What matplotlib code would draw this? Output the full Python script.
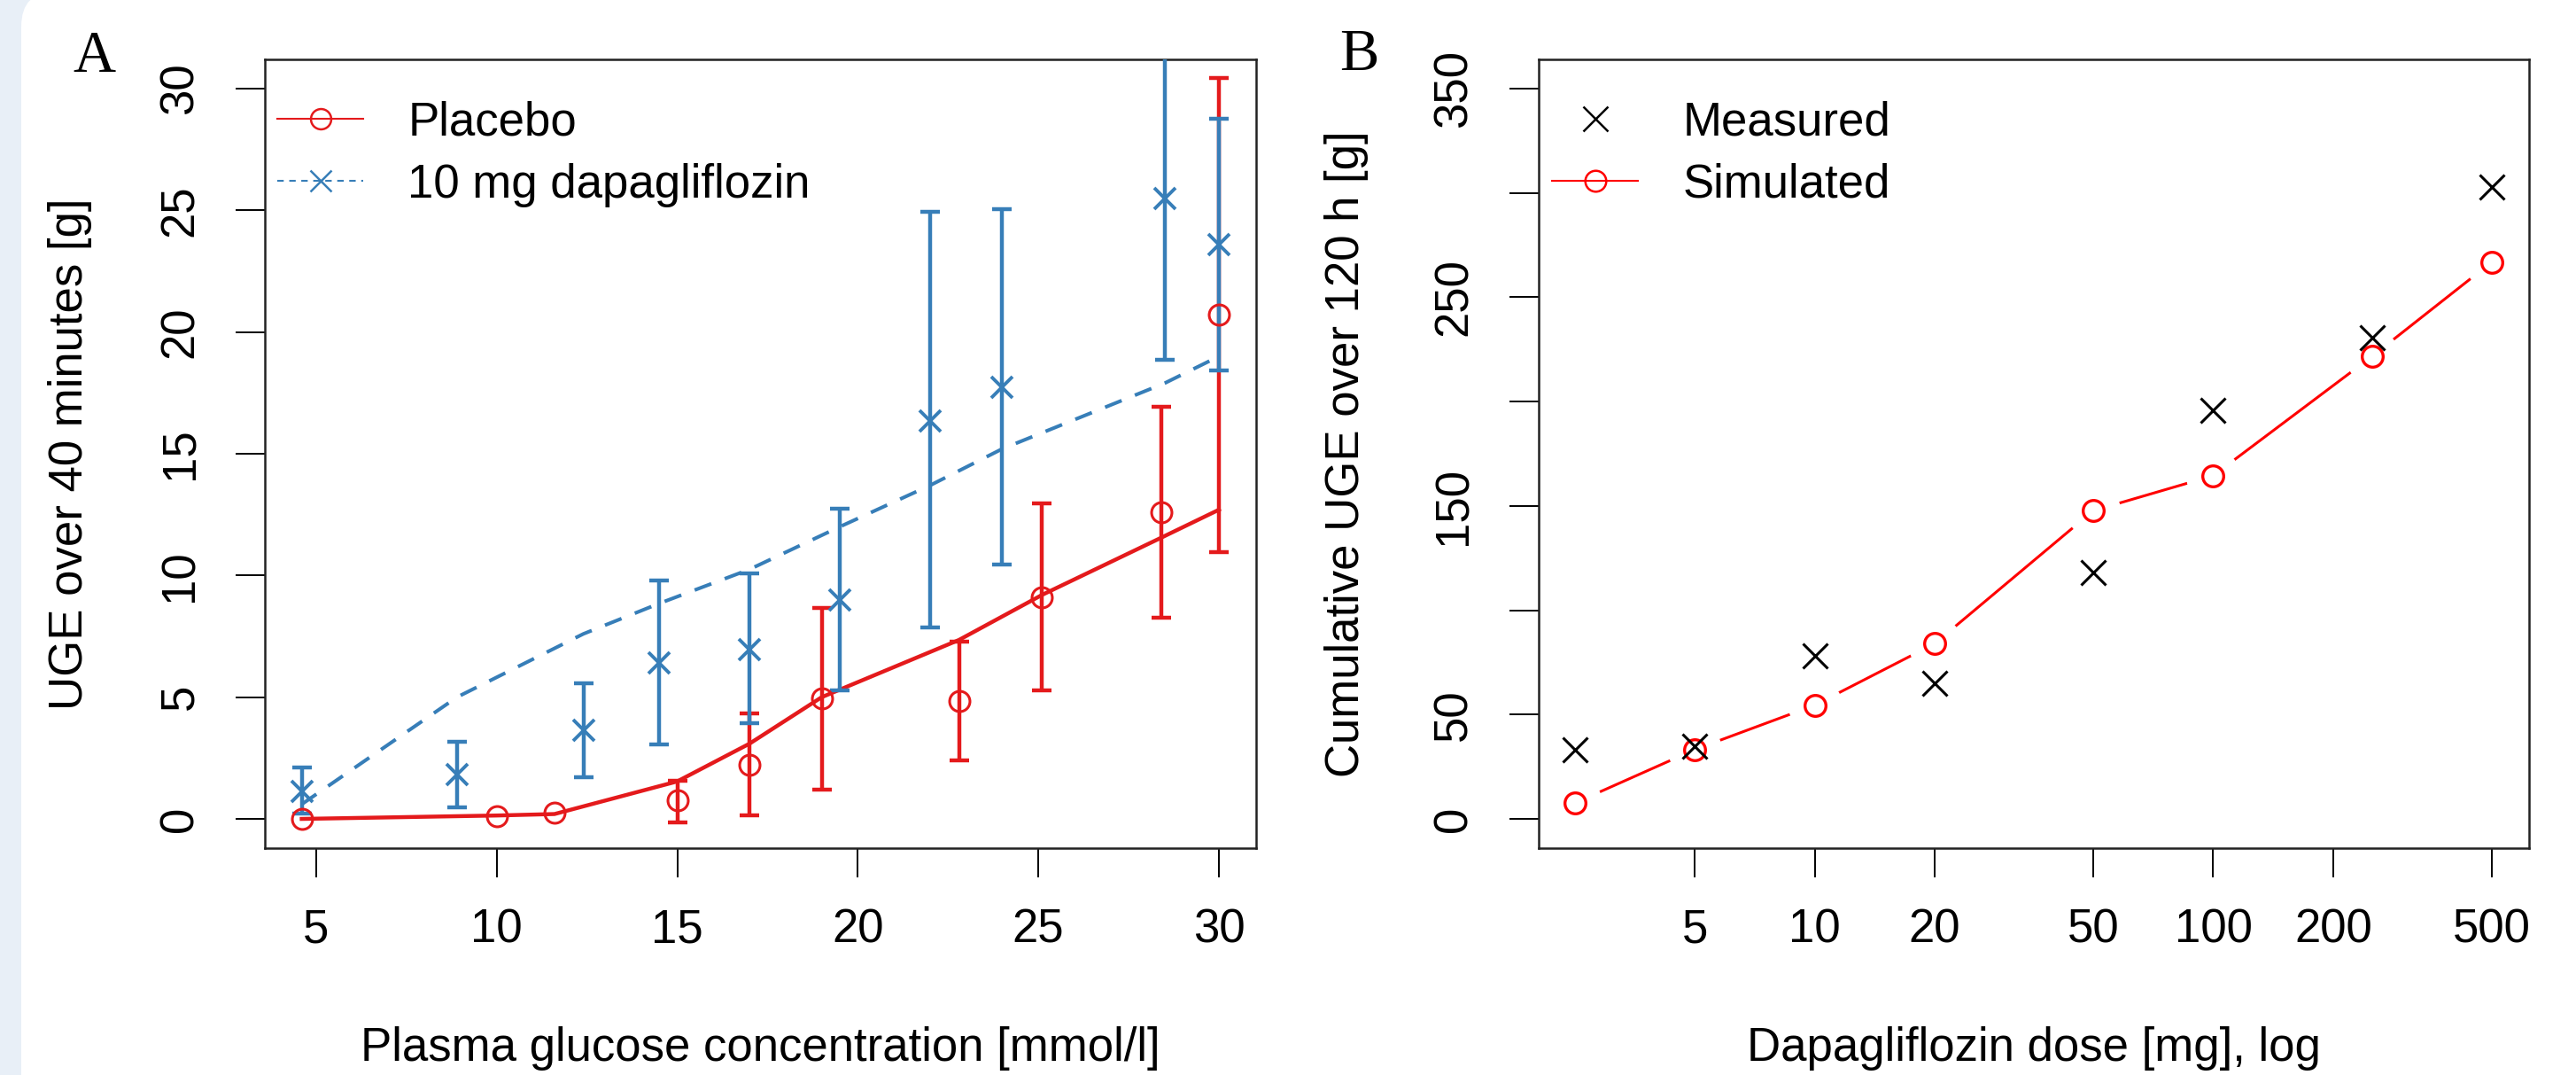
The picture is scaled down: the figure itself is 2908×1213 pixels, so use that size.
import numpy as np
import matplotlib.pyplot as plt
from matplotlib.lines import Line2D
from matplotlib.patches import FancyBboxPatch
from matplotlib.transforms import IdentityTransform
from matplotlib.ticker import NullLocator

plt.rcParams['font.family'] = ['Liberation Sans', 'DejaVu Sans']

# Panel A: UGE over 40 minutes vs plasma glucose
glucose_placebo = np.array([4.6, 10.0, 11.6, 15.0, 17.0, 19.0, 22.8, 25.1, 28.4, 30.0])
uge_placebo = np.array([0.0, 0.12, 0.24, 0.76, 2.24, 4.94, 4.84, 9.12, 12.6, 20.7])
placebo_hi = np.array([np.nan, np.nan, np.nan, 1.57, 4.33, 8.67, 7.29, 12.95, 16.94, 30.45])
placebo_lo = np.array([np.nan, np.nan, np.nan, -0.13, 0.16, 1.21, 2.42, 5.29, 8.25, 10.95])
model_placebo = np.array([0.0, 0.14, 0.2, 1.54, 3.09, 5.0, 7.35, 9.2, 11.55, 12.7])

glucose_dapa = np.array([4.6, 8.9, 12.4, 14.5, 17.0, 19.5, 22.0, 24.0, 28.5, 30.0])
uge_dapa = np.array([1.12, 1.82, 3.64, 6.42, 6.97, 9.0, 16.35, 17.73, 25.5, 23.59])
dapa_hi = np.array([2.12, 3.18, 5.56, 9.79, 10.08, 12.75, 24.94, 25.05, 33.0, 28.76])
dapa_lo = np.array([0.21, 0.48, 1.72, 3.07, 3.94, 5.27, 7.88, 10.44, 18.87, 18.41])
model_dapa = np.array([0.6, 5.0, 7.6, 8.85, 10.25, 12.0, 13.7, 15.2, 17.9, 19.0])

a_xticks = [5, 10, 15, 20, 25, 30]
a_yticks = [0, 5, 10, 15, 20, 25, 30]

# Panel B: cumulative UGE over 120 h vs dose
dose = np.array([2.5, 5, 10, 20, 50, 100, 250, 500])
uge_measured = np.array([33.2, 34.8, 78.1, 65.0, 118.2, 196.0, 230.5, 303.0])
uge_simulated = np.array([7.6, 33.2, 54.5, 84.0, 147.7, 164.5, 221.6, 266.9])

b_xticks = [5, 10, 20, 50, 100, 200, 500]
b_yticks = [0, 50, 100, 150, 200, 250, 300, 350]
b_ylabels = ['0', '50', '', '150', '', '250', '', '350']

RED = '#e41a1c'
BLUE = '#377eb8'
FS = 38

fig = plt.figure(figsize=(29.08, 12.13), dpi=100)
fig.patch.set_facecolor('#e8eff7')
card = FancyBboxPatch((24, -100), 3000, 1323, boxstyle='round,pad=0,rounding_size=40',
                      transform=IdentityTransform(), fc='white', ec='none', zorder=0)
fig.add_artist(card)

ax1 = fig.add_axes([0.10282, 0.21105, 0.38480, 0.73372])
ax2 = fig.add_axes([0.59732, 0.21105, 0.38445, 0.73372])


def style_axes(ax):
    for s in ax.spines.values():
        s.set_linewidth(1.8)
        s.set_color('#222222')
    ax.tick_params(direction='out', length=23.5, width=1.4, labelsize=FS,
                   top=False, right=False, colors='black')
    ax.tick_params(axis='x', pad=25)
    ax.tick_params(axis='y', pad=45)


# ---- panel A
ax1.plot(glucose_placebo, model_placebo, color=RED, lw=3.2, zorder=2)
ax1.plot(glucose_dapa, model_dapa, color=BLUE, lw=2.9, ls=(0, (5, 4)), zorder=2)

m = ~np.isnan(placebo_hi)
ax1.errorbar(glucose_placebo[m], uge_placebo[m],
             yerr=[uge_placebo[m] - placebo_lo[m], placebo_hi[m] - uge_placebo[m]],
             fmt='none', ecolor=RED, elinewidth=3.2, capsize=8, capthick=3.2, zorder=3)
ax1.errorbar(glucose_dapa, uge_dapa, yerr=[uge_dapa - dapa_lo, dapa_hi - uge_dapa],
             fmt='none', ecolor=BLUE, elinewidth=3.2, capsize=8, capthick=3.2, zorder=3)
ax1.plot(glucose_placebo, uge_placebo, 'o', mfc='none', mec=RED, ms=16.5, mew=2.2, zorder=4)
ax1.plot(glucose_dapa, uge_dapa, 'x', color=BLUE, ms=17.5, mew=2.8, zorder=4)

ax1.set_xlim(3.58, 31.03)
ax1.set_ylim(-1.2, 31.2)
ax1.set_xticks(a_xticks, [str(t) for t in a_xticks])
ax1.set_yticks(a_yticks, [str(t) for t in a_yticks], rotation=90, ha='center', va='center')
style_axes(ax1)

ax1.set_xlabel('Plasma glucose concentration [mmol/l]', fontsize=FS)
ax1.xaxis.set_label_coords(0.5, -0.2258)
ax1.set_ylabel('UGE over 40 minutes [g]', fontsize=FS, va='center')
ax1.yaxis.set_label_coords(-0.1966, 0.5)

h1 = [Line2D([], [], color=RED, lw=1.5, marker='o', mfc='none', ms=16.5, mew=1.8),
      Line2D([], [], color=BLUE, lw=1.5, ls=(0, (3.5, 3)), marker='x', ms=17, mew=1.8)]
ax1.legend(h1, ['Placebo', '10 mg dapagliflozin'], loc='upper left',
           bbox_to_anchor=(0.0125, 0.948), frameon=False, fontsize=FS,
           handlelength=1.84, handletextpad=0.95, labelspacing=0.39,
           borderpad=0, borderaxespad=0)

# ---- panel B
ax2.set_xscale('log')
ax2.plot(dose, uge_simulated, color='red', lw=2.2, zorder=2)
ax2.plot(dose, uge_simulated, 'o', mfc='white', mec='none', ms=44, zorder=3)
ax2.plot(dose, uge_simulated, 'o', mfc='none', mec='red', ms=17, mew=2.4, zorder=4)
ax2.plot(dose, uge_measured, 'x', color='black', ms=19.5, mew=2.2, zorder=5)

ax2.set_xlim(2.03, 620)
ax2.set_ylim(-14, 364)
ax2.set_xticks(b_xticks, [str(t) for t in b_xticks])
ax2.xaxis.set_minor_locator(NullLocator())
ax2.set_yticks(b_yticks, b_ylabels, rotation=90, ha='center', va='center')
style_axes(ax2)

ax2.set_xlabel('Dapagliflozin dose [mg], log', fontsize=FS)
ax2.xaxis.set_label_coords(0.5, -0.2258)
ax2.set_ylabel('Cumulative UGE over 120 h [g]', fontsize=FS, va='center')
ax2.yaxis.set_label_coords(-0.194, 0.5)

h2 = [Line2D([], [], ls='none', marker='x', color='black', ms=19.5, mew=1.8),
      Line2D([], [], color='red', lw=1.5, marker='o', mfc='none', ms=17, mew=1.8)]
ax2.legend(h2, ['Measured', 'Simulated'], loc='upper left',
           bbox_to_anchor=(0.0134, 0.948), frameon=False, fontsize=FS,
           handlelength=1.84, handletextpad=0.95, labelspacing=0.39,
           borderpad=0, borderaxespad=0)

fig.text(106 / 2908, 1 - 81 / 1213, 'A', family=['Liberation Serif', 'DejaVu Serif'],
         fontsize=48, ha='center', va='baseline')
fig.text(1534 / 2908, 1 - 79 / 1213, 'B', family=['Liberation Serif', 'DejaVu Serif'],
         fontsize=48, ha='center', va='baseline')

fig.savefig('out.png', dpi=100, facecolor=fig.get_facecolor())
